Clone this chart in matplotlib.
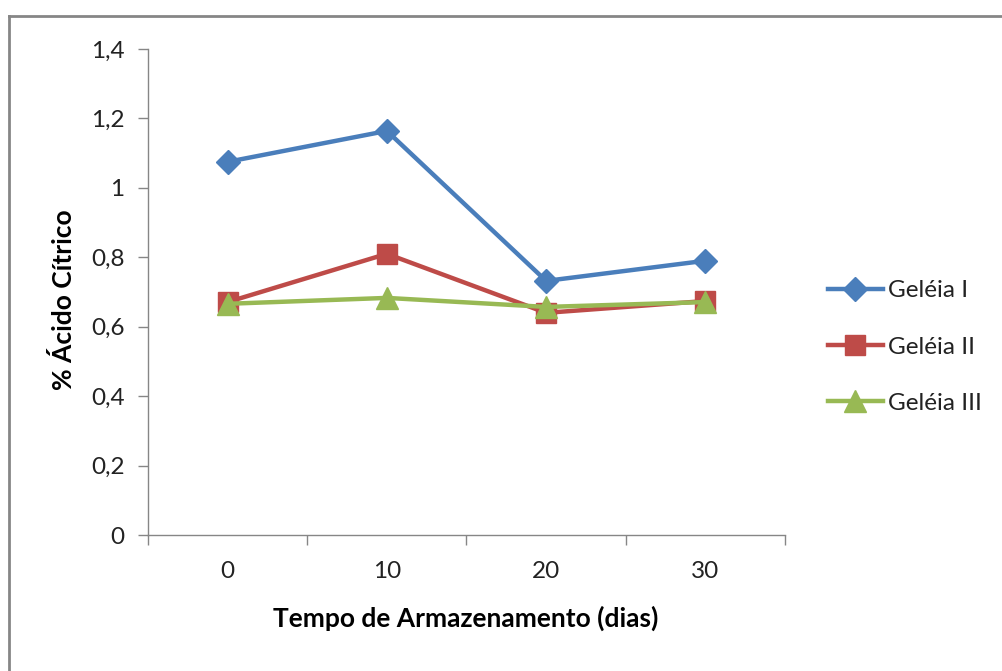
import matplotlib
matplotlib.use("Agg")
import matplotlib.pyplot as plt
from matplotlib.lines import Line2D

plt.rcParams['font.family'] = ['Lato', 'DejaVu Sans']

categories = ["0", "10", "20", "30"]
geleia_1 = [1.075, 1.164, 0.732, 0.79]
geleia_2 = [0.671, 0.81, 0.64, 0.674]
geleia_3 = [0.666, 0.683, 0.657, 0.671]
series_names = ["Geléia I", "Geléia II", "Geléia III"]
y_ticks = [0, 0.2, 0.4, 0.6, 0.8, 1.0, 1.2, 1.4]
y_tick_labels = ["0", "0,2", "0,4", "0,6", "0,8", "1", "1,2", "1,4"]

colors = ["#4A7EBB", "#BE4B48", "#98B954"]
markers = ["D", "s", "^"]
msizes = [12, 14.5, 16.5]

W, H = 1003, 671
fig = plt.figure(figsize=(W / 100, H / 100), dpi=100)
ax = fig.add_axes([148 / W, 1 - 535 / H, 637 / W, 486 / H])

x = list(range(len(categories)))
handles = []
for vals, name, c, m, ms in zip([geleia_1, geleia_2, geleia_3], series_names, colors, markers, msizes):
    h, = ax.plot(x, vals, color=c, lw=3.2, marker=m, markersize=ms,
                 markerfacecolor=c, markeredgecolor=c, label=name, zorder=3)
    handles.append(h)

ax.set_xlim(-0.5, len(categories) - 0.5)
ax.set_ylim(0, 1.4)
ax.set_yticks(y_ticks)
ax.set_yticklabels(y_tick_labels)
ax.set_xticks([i - 0.5 for i in range(len(categories) + 1)])
ax.set_xticklabels([])
ax.set_xticks(x, minor=True)
ax.set_xticklabels(categories, minor=True)
ax.tick_params(axis='x', which='minor', length=0, pad=19, labelsize=17.5, colors='#222222')
ax.tick_params(axis='x', which='major', length=7, width=1, color='#868686', direction='out')
ax.tick_params(axis='y', length=7, width=1, color='#868686', direction='out', pad=10,
               labelsize=17.5, labelcolor='#222222')

for s in ['top', 'right']:
    ax.spines[s].set_visible(False)
for s in ['left', 'bottom']:
    ax.spines[s].set_color('#868686')
    ax.spines[s].set_linewidth(1)

fig.text(466 / W, 1 - 618 / H, "Tempo de Armazenamento (dias)", ha='center', va='center',
         fontsize=19, fontweight='bold', color='black')
fig.text(63 / W, 1 - 300 / H, "% Ácido Cítrico", ha='center', va='center', rotation=90,
         fontsize=19, fontweight='bold', color='black')

leg = fig.legend(handles=handles, loc='center left', bbox_to_anchor=(828 / W, 1 - 347 / H),
                 frameon=False, fontsize=17.5, handlelength=2.25, handletextpad=0.2,
                 labelspacing=1.45, borderaxespad=0, borderpad=0)
for t in leg.get_texts():
    t.set_color('#222222')

# outer chart frame
fig.add_artist(Line2D([9 / W, 1.0], [1 - 15.5 / H, 1 - 15.5 / H], transform=fig.transFigure,
                      color='#868686', lw=2))
fig.add_artist(Line2D([9 / W, 9 / W], [0, 1 - 15.5 / H], transform=fig.transFigure,
                      color='#868686', lw=2))

fig.savefig("out.png", dpi=100)
